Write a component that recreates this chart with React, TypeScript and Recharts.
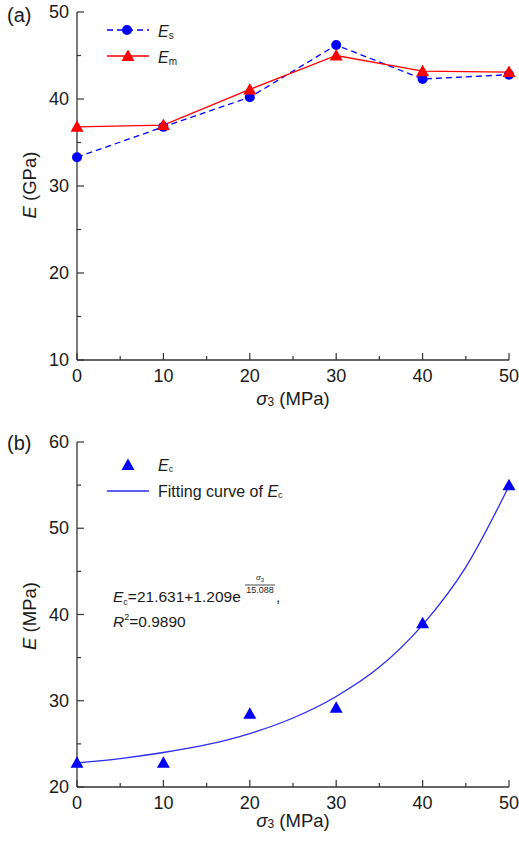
import React from 'react';
import { LineChart, Line, ComposedChart, Scatter, XAxis, YAxis, Customized } from 'recharts';

// sigma_3 (MPa)
const SIGMA = [0, 10, 20, 30, 40, 50];
// (a) static / mechanical modulus (GPa)
const ES = [33.3, 36.8, 40.2, 46.2, 42.3, 42.8];
const EM = [36.8, 37.0, 41.1, 45.0, 43.2, 43.1];
// (b) Ec (MPa) and the fitted curve
const EC = [22.8, 22.8, 28.5, 29.2, 39.0, 55.0];
const FIT_SIGMA = [0, 5, 10, 15, 20, 25, 30, 35, 40, 45, 50];
const FIT_EC = [22.8, 23.3, 24.0, 24.9, 26.2, 28.0, 30.5, 33.9, 38.8, 45.5, 54.9];

const X_TICKS = [0, 5, 10, 15, 20, 25, 30, 35, 40, 45, 50];
const Y_TICKS_A = [10, 15, 20, 25, 30, 35, 40, 45, 50];
const Y_TICKS_B = [20, 25, 30, 35, 40, 45, 50, 55, 60];

const FONT = '"Liberation Sans", Arial, sans-serif';
const AXIS = '#333';
const TXT = '#1a1a1a';
const BLUE = '#0000ff';
const RED = '#ff0000';
const FIT = '#2a2af0';

const dataA = SIGMA.map((s, i) => ({ sigma: s, es: ES[i], em: EM[i] }));
const dataEc = SIGMA.map((s, i) => ({ sigma: s, ec: EC[i] }));
const dataFit = FIT_SIGMA.map((s, i) => ({ sigma: s, fit: FIT_EC[i] }));

const XTick = (props: any) => {
  const { x, y, payload } = props;
  const major = payload.value % 10 === 0;
  return (
    <g>
      <line x1={x} x2={x} y1={y} y2={y - (major ? 7 : 4)} stroke={AXIS} strokeWidth={1.2} />
      {major && (
        <text x={x} y={y + 16} textAnchor="middle" dominantBaseline="central" fontSize={18} fill={TXT} fontFamily={FONT}>
          {payload.value}
        </text>
      )}
    </g>
  );
};

const YTick = (props: any) => {
  const { x, y, payload } = props;
  const major = payload.value % 10 === 0;
  return (
    <g>
      <line x1={x} x2={x + (major ? 7 : 4)} y1={y} y2={y} stroke={AXIS} strokeWidth={1.2} />
      {major && (
        <text x={x - 8} y={y} textAnchor="end" dominantBaseline="central" fontSize={18} fill={TXT} fontFamily={FONT}>
          {payload.value}
        </text>
      )}
    </g>
  );
};

const triangle = (cx: number, cy: number, fill: string) => (
  <polygon points={`${cx},${cy - 6.5} ${cx - 6.5},${cy + 5} ${cx + 6.5},${cy + 5}`} fill={fill} />
);

const TriDot = (props: any) => {
  const { cx, cy } = props;
  if (cx == null || cy == null) return null;
  return triangle(cx, cy, RED);
};

const TriShape = (props: any) => triangle(props.cx, props.cy, BLUE);

const SigmaLabel = ({ x, y }: { x: number; y: number }) => (
  <text x={x} y={y} textAnchor="middle" dominantBaseline="central" fontSize={18.5} fill={TXT} fontFamily={FONT}>
    <tspan fontStyle="italic">σ</tspan>
    <tspan fontSize={12} dy={4}>3</tspan>
    <tspan dy={-4}> (MPa)</tspan>
  </text>
);

const YLabel = ({ y, unit }: { y: number; unit: string }) => (
  <text x={29} y={y} transform={`rotate(-90 29 ${y})`} textAnchor="middle" dominantBaseline="central" fontSize={18.5} fill={TXT} fontFamily={FONT}>
    <tspan fontStyle="italic">E</tspan> ({unit})
  </text>
);

const AnnotA = () => (
  <g fontFamily={FONT}>
    <text x={7} y={15} dominantBaseline="central" fontSize={20} fill={TXT}>(a)</text>
    <YLabel y={185} unit="GPa" />
    <SigmaLabel x={293} y={398} />
    {/* legend */}
    <line x1={107} x2={149} y1={30} y2={30} stroke={BLUE} strokeWidth={1.3} strokeDasharray="6 4" />
    <circle cx={127} cy={30} r={5} fill={BLUE} />
    <text x={158} y={31} dominantBaseline="central" fontSize={16} fill={TXT}>
      <tspan fontStyle="italic">E</tspan>
      <tspan fontSize={10} dy={4}>s</tspan>
    </text>
    <line x1={107} x2={149} y1={56} y2={56} stroke={RED} strokeWidth={1.3} />
    {triangle(128, 56, RED)}
    <text x={158} y={57} dominantBaseline="central" fontSize={16} fill={TXT}>
      <tspan fontStyle="italic">E</tspan>
      <tspan fontSize={10} dy={4}>m</tspan>
    </text>
  </g>
);

const AnnotB = () => (
  <g fontFamily={FONT}>
    <text x={7} y={13} dominantBaseline="central" fontSize={20} fill={TXT}>(b)</text>
    <YLabel y={186} unit="MPa" />
    <SigmaLabel x={293} y={390} />
    {/* legend */}
    {triangle(128, 35, BLUE)}
    <text x={158} y={35} dominantBaseline="central" fontSize={16} fill={TXT}>
      <tspan fontStyle="italic">E</tspan>
      <tspan fontSize={9} dy={4}>c</tspan>
    </text>
    <line x1={107} x2={149} y1={61} y2={61} stroke={FIT} strokeWidth={1.3} />
    <text x={158} y={61} dominantBaseline="central" fontSize={16} fill={TXT}>
      Fitting curve of <tspan fontStyle="italic">E</tspan>
      <tspan fontSize={9} dy={4}>c</tspan>
    </text>
    {/* fit equation */}
    <text x={113} y={172} fontSize={15.5} fill={TXT}>
      <tspan fontStyle="italic">E</tspan>
      <tspan fontSize={9} dy={3}>c</tspan>
      <tspan dy={-3}>=21.631+1.209e</tspan>
    </text>
    <text x={260} y={150} textAnchor="middle" fontSize={8} fill={TXT}>
      <tspan fontStyle="italic">σ</tspan>
      <tspan fontSize={6} dy={2}>3</tspan>
    </text>
    <line x1={245} x2={275} y1={155} y2={155} stroke={TXT} strokeWidth={0.8} />
    <text x={260} y={163} textAnchor="middle" fontSize={9} fill={TXT}>15.088</text>
    <text x={276} y={172} fontSize={15.5} fill={TXT}>,</text>
    <text x={113} y={197} fontSize={15.5} fill={TXT}>
      <tspan fontStyle="italic">R</tspan>
      <tspan fontSize={9} dy={-7}>2</tspan>
      <tspan dy={7}>=0.9890</tspan>
    </text>
  </g>
);

export default function App() {
  return (
    <div style={{ position: 'absolute', left: 0, top: 0, width: 519, height: 844, background: '#fff' }}>
      <div style={{ position: 'absolute', left: 0, top: 0 }}>
        <LineChart width={519} height={420} data={dataA} margin={{ top: 12, right: 10, left: 0, bottom: 10 }}>
          <XAxis
            type="number"
            dataKey="sigma"
            domain={[0, 50]}
            ticks={X_TICKS}
            interval={0}
            tickSize={0}
            tickMargin={0}
            tick={<XTick />}
            height={50}
            axisLine={{ stroke: AXIS, strokeWidth: 1.3 }}
          />
          <YAxis
            type="number"
            domain={[10, 50]}
            ticks={Y_TICKS_A}
            interval={0}
            tickSize={0}
            tickMargin={0}
            tick={<YTick />}
            width={77}
            axisLine={{ stroke: AXIS, strokeWidth: 1.3 }}
          />
          <Line
            dataKey="es"
            stroke={BLUE}
            strokeWidth={1.3}
            strokeDasharray="6 4"
            dot={{ r: 5, fill: BLUE, stroke: BLUE, strokeWidth: 0 }}
            isAnimationActive={false}
          />
          <Line
            dataKey="em"
            stroke={RED}
            strokeWidth={1.3}
            dot={<TriDot />}
            isAnimationActive={false}
          />
          <Customized component={AnnotA} />
        </LineChart>
      </div>
      <div style={{ position: 'absolute', left: 0, top: 430 }}>
        <ComposedChart width={519} height={414} margin={{ top: 12, right: 10, left: 0, bottom: 7 }}>
          <XAxis
            type="number"
            dataKey="sigma"
            domain={[0, 50]}
            ticks={X_TICKS}
            interval={0}
            tickSize={0}
            tickMargin={0}
            tick={<XTick />}
            height={50}
            axisLine={{ stroke: AXIS, strokeWidth: 1.3 }}
          />
          <YAxis
            type="number"
            domain={[20, 60]}
            ticks={Y_TICKS_B}
            interval={0}
            tickSize={0}
            tickMargin={0}
            tick={<YTick />}
            width={77}
            axisLine={{ stroke: AXIS, strokeWidth: 1.3 }}
          />
          <Line
            data={dataFit}
            dataKey="fit"
            type="monotone"
            stroke={FIT}
            strokeWidth={1.3}
            dot={false}
            isAnimationActive={false}
          />
          <Scatter data={dataEc} dataKey="ec" shape={<TriShape />} isAnimationActive={false} />
          <Customized component={AnnotB} />
        </ComposedChart>
      </div>
    </div>
  );
}
